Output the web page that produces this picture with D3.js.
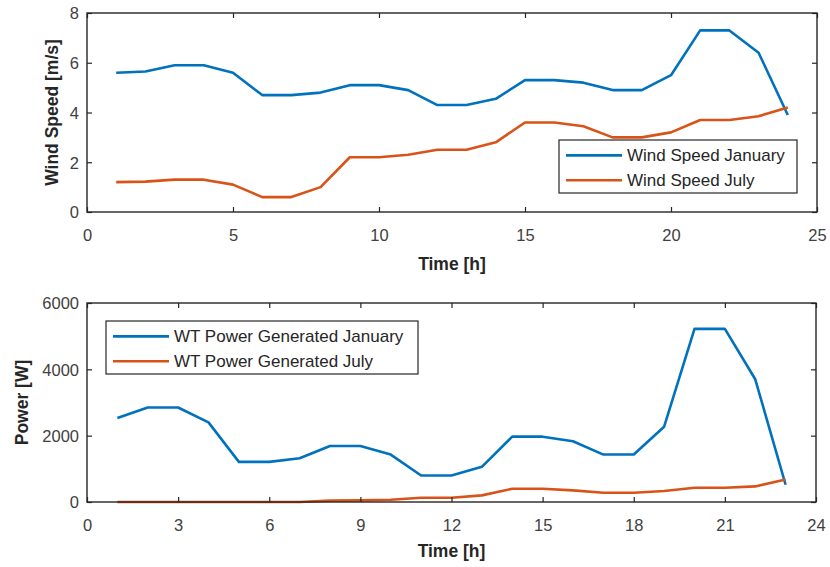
<!DOCTYPE html>
<html>
<head>
<meta charset="utf-8">
<script src="https://cdn.jsdelivr.net/npm/d3@7"></script>
<style>
  html, body { margin: 0; padding: 0; background: #fff; }
  svg { display: block; }
  text { font-family: "Liberation Sans", Arial, Helvetica, sans-serif; }
</style>
</head>
<body>
<svg id="fig" width="830" height="567"></svg>
<script>
// Hourly data
const hoursWind = d3.range(1, 25);
const windJanuary = [5.6, 5.65, 5.9, 5.9, 5.6, 4.7, 4.7, 4.8, 5.1, 5.1, 4.9, 4.3,
                     4.3, 4.55, 5.3, 5.3, 5.2, 4.9, 4.9, 5.5, 7.3, 7.3, 6.4, 3.9];
const windJuly    = [1.2, 1.22, 1.3, 1.3, 1.1, 0.6, 0.6, 1.0, 2.2, 2.2, 2.3, 2.5,
                     2.5, 2.8, 3.6, 3.6, 3.45, 3.0, 3.0, 3.2, 3.7, 3.7, 3.85, 4.2];

const hoursPower = d3.range(1, 24);
const powerJanuary = [2530, 2850, 2850, 2400, 1210, 1210, 1320, 1690, 1690, 1430, 800, 800,
                      1060, 1970, 1970, 1830, 1430, 1430, 2270, 5220, 5220, 3700, 520];
const powerJuly    = [0, 0, 0, 0, 0, 0, 0, 40, 50, 70, 130, 130,
                      200, 400, 400, 350, 280, 280, 330, 430, 430, 470, 680];

const windTicksX = [0, 5, 10, 15, 20, 25];
const windTicksY = [0, 2, 4, 6, 8];
const powerTicksX = [0, 3, 6, 9, 12, 15, 18, 21, 24];
const powerTicksY = [0, 2000, 4000, 6000];

const BLUE = "#0072BD", ORANGE = "#D95319";
const FRAME = "#262626", TICKTXT = "#404040";

const svg = d3.select("#fig");

function panel(cfg) {
  const { left, right, top, bottom } = cfg.box;
  const x = d3.scaleLinear().domain(cfg.xDomain).range([left, right]);
  const y = d3.scaleLinear().domain(cfg.yDomain).range([bottom, top]);
  const g = svg.append("g");

  // series
  const line = d3.line().x(d => x(d[0])).y(d => y(d[1]));
  cfg.series.forEach(s => {
    g.append("path")
      .datum(cfg.xs.map((h, i) => [h, s.values[i]]))
      .attr("fill", "none")
      .attr("stroke", s.color)
      .attr("stroke-width", 2.6)
      .attr("stroke-linejoin", "round")
      .attr("d", line);
  });

  // axes with inward ticks on all four sides
  const tk = 5;
  const ax = g.append("g").attr("transform", `translate(0,${bottom})`)
    .call(d3.axisBottom(x).tickValues(cfg.xTicks).tickSize(-tk).tickFormat(d3.format("d")));
  const ay = g.append("g").attr("transform", `translate(${left},0)`)
    .call(d3.axisLeft(y).tickValues(cfg.yTicks).tickSize(-tk).tickFormat(d3.format("d")));
  g.append("g").attr("transform", `translate(0,${top})`)
    .call(d3.axisTop(x).tickValues(cfg.xTicks).tickSize(-tk).tickFormat(""));
  g.append("g").attr("transform", `translate(${right},0)`)
    .call(d3.axisRight(y).tickValues(cfg.yTicks).tickSize(-tk).tickFormat(""));

  g.selectAll(".domain").remove();
  g.selectAll(".tick line").attr("stroke", FRAME).attr("stroke-width", 1.2);

  ax.selectAll("text")
    .attr("y", 23).attr("dy", "0.35em")
    .attr("fill", TICKTXT).attr("font-size", 16.5);
  ay.selectAll("text")
    .attr("x", -8).attr("dy", "0.35em")
    .attr("fill", TICKTXT).attr("font-size", 16.5);

  // frame
  g.append("rect")
    .attr("x", left).attr("y", top)
    .attr("width", right - left).attr("height", bottom - top)
    .attr("fill", "none").attr("stroke", FRAME).attr("stroke-width", 1.4);

  // axis labels
  g.append("text")
    .attr("x", (left + right) / 2).attr("y", cfg.xLabelY)
    .attr("text-anchor", "middle").attr("dy", "0.35em")
    .attr("font-weight", "bold").attr("font-size", 17.5).attr("fill", FRAME)
    .text(cfg.xLabel);
  g.append("text")
    .attr("transform", `translate(${cfg.yLabelX},${(top + bottom) / 2}) rotate(-90)`)
    .attr("text-anchor", "middle").attr("dy", "0.35em")
    .attr("font-weight", "bold").attr("font-size", 17.5).attr("fill", FRAME)
    .text(cfg.yLabel);

  // legend
  const L = cfg.legend;
  const lg = g.append("g");
  lg.append("rect")
    .attr("x", L.x).attr("y", L.y).attr("width", L.w).attr("height", L.h)
    .attr("fill", "#fff").attr("stroke", FRAME).attr("stroke-width", 1.2);
  cfg.series.forEach((s, i) => {
    const cy = L.y + L.h * (i === 0 ? 0.29 : 0.76);
    lg.append("line")
      .attr("x1", L.x + 7).attr("x2", L.x + 63)
      .attr("y1", cy).attr("y2", cy)
      .attr("stroke", s.color).attr("stroke-width", 2.6);
    lg.append("text")
      .attr("x", L.x + 68).attr("y", cy).attr("dy", "0.35em")
      .attr("font-size", 17).attr("fill", FRAME)
      .text(s.name);
  });
}

panel({
  box: { left: 87, right: 817, top: 13, bottom: 212 },
  xDomain: [0, 25], yDomain: [0, 8],
  xTicks: windTicksX, yTicks: windTicksY,
  xs: hoursWind,
  series: [
    { name: "Wind Speed January", values: windJanuary, color: BLUE },
    { name: "Wind Speed July", values: windJuly, color: ORANGE }
  ],
  xLabel: "Time [h]", xLabelY: 264,
  yLabel: "Wind Speed [m/s]", yLabelX: 52,
  legend: { x: 559, y: 140, w: 238, h: 53 }
});

panel({
  box: { left: 87, right: 816, top: 303, bottom: 502 },
  xDomain: [0, 24], yDomain: [0, 6000],
  xTicks: powerTicksX, yTicks: powerTicksY,
  xs: hoursPower,
  series: [
    { name: "WT Power Generated January", values: powerJanuary, color: BLUE },
    { name: "WT Power Generated July", values: powerJuly, color: ORANGE }
  ],
  xLabel: "Time [h]", xLabelY: 551,
  yLabel: "Power [W]", yLabelX: 22,
  legend: { x: 106, y: 321, w: 312, h: 53 }
});
</script>
</body>
</html>
